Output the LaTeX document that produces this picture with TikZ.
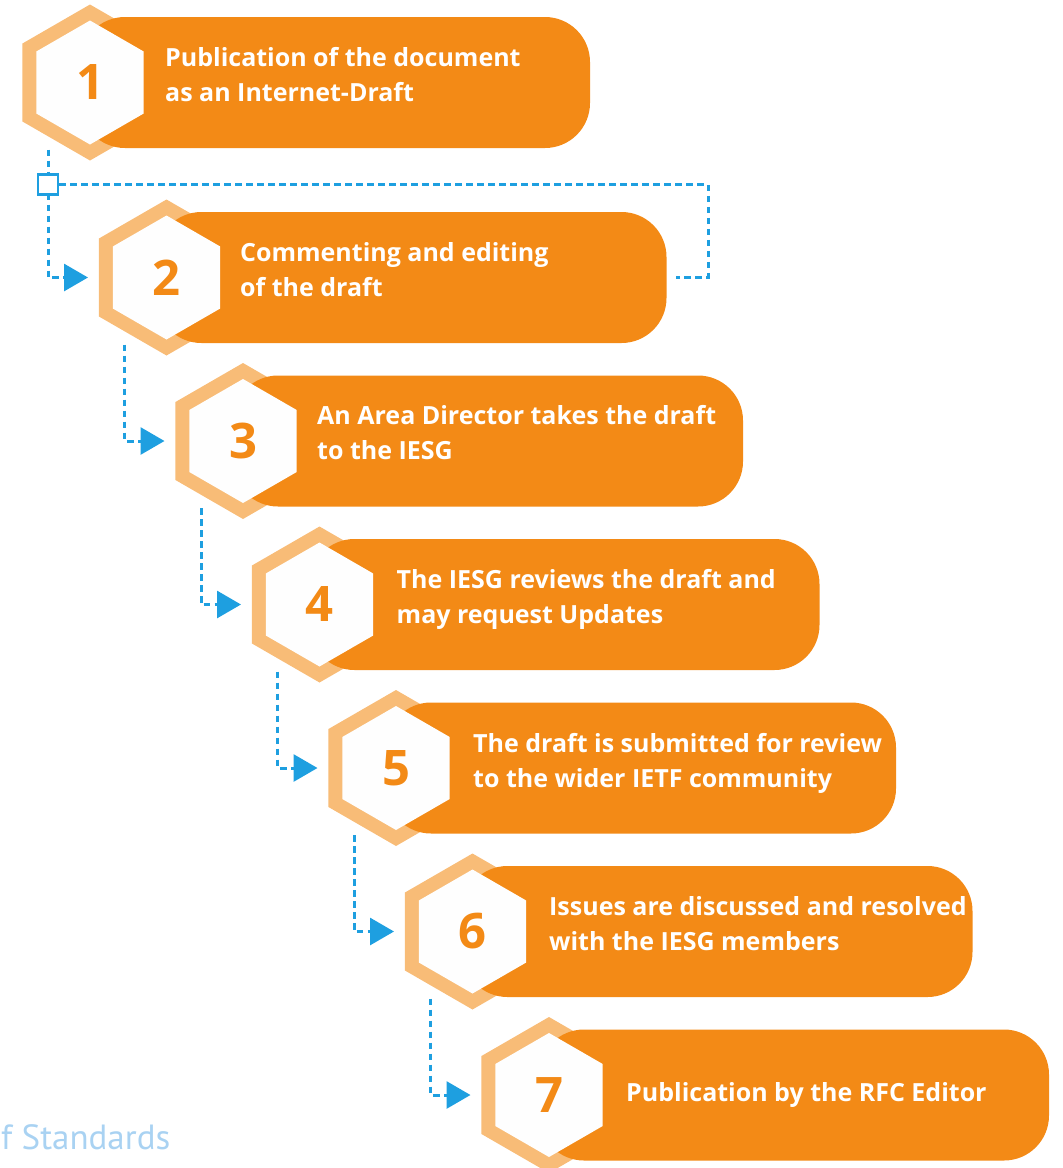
\documentclass[tikz,border=0pt]{standalone}
\usepackage{fontspec}
\setmainfont{PT Sans}
\newfontfamily\stagefont{Open Sans}
\usetikzlibrary{arrows.meta}
\definecolor{rectorange}{HTML}{F38A16}
\definecolor{hexpale}{HTML}{F8BC77}
\definecolor{hexwhite}{HTML}{FEFEFE}
\definecolor{flowblue}{HTML}{1E9FE0}
\definecolor{wmblue}{HTML}{A9D2F2}
\newcommand\drawstage[4]{%
  % #1 name, #2 cx, #3 cy, #4 number
  \fill[hexpale] (#2,#3) ++(90:78) -- ++(210:78) -- ++(270:78) -- ++(330:78) -- ++(30:78) -- ++(90:78) -- cycle;
  \fill[rectorange, rounded corners=45pt] ({#2-10},{#3-65.5}) rectangle ({#2+500},{#3+65.5});
  \fill[hexwhite] (#2,#3) ++(90:62) -- ++(210:62) -- ++(270:62) -- ++(330:62) -- ++(30:62) -- ++(90:62) -- cycle;
  \node[numtext] (n#1) at (#2,#3) {#4};
  \coordinate (top#1) at ({#2-42},{#3+67});
  \coordinate (tip#1) at ({#2-78.5},#3);
}
\begin{document}
\begin{tikzpicture}[x=1pt,y=-1pt,
  numtext/.style={font=\stagefont\bfseries\fontsize{49}{49}\selectfont, text=rectorange, inner sep=0pt},
  stagetext/.style={font=\stagefont\bfseries\fontsize{25}{30}\selectfont, text=white, anchor=base west, inner sep=0pt},
  flowline/.style={draw=flowblue, line width=3pt, dash pattern=on 6.5pt off 4.5pt},
  flowarrow/.style={flowline, -{Triangle[length=24pt,width=27pt]}},
  loopsquare/.style={draw=flowblue, line width=2.5pt, fill=white, minimum size=20pt, inner sep=0pt}
]
\useasboundingbox (0,0) rectangle (1063,1168);
\drawstage{1}{90}{82.5}{1}
\node[stagetext] (t1a) at (165,66.5) {Publication of the document};
\node[stagetext] (t1b) at (165,101.5) {as an Internet-Draft};
\drawstage{2}{166.5}{277.5}{2}
\node[stagetext] (t2a) at (240,261) {Commenting and editing};
\node[stagetext] (t2b) at (240,296) {of the draft};
\drawstage{3}{243}{441}{3}
\node[stagetext] (t3a) at (317,424) {An Area Director takes the draft};
\node[stagetext] (t3b) at (317,459) {to the IESG};
\drawstage{4}{319.5}{604.5}{4}
\node[stagetext] (t4a) at (396.5,588) {The IESG reviews the draft and};
\node[stagetext] (t4b) at (396.5,623) {may request Updates};
\drawstage{5}{396}{768}{5}
\node[stagetext] (t5a) at (473,752) {The draft is submitted for review};
\node[stagetext] (t5b) at (473,787) {to the wider IETF community};
\drawstage{6}{472.5}{931.5}{6}
\node[stagetext] (t6a) at (549,915) {Issues are discussed and resolved};
\node[stagetext] (t6b) at (549,950) {with the IESG members};
\drawstage{7}{549}{1095}{7}
\node[stagetext] (t7a) at (626,1101) {Publication by the RFC Editor};
% connectors
\draw[flowarrow] (top1) |- (tip2);
\draw[flowarrow] (top2) |- (tip3);
\draw[flowarrow] (top3) |- (tip4);
\draw[flowarrow] (top4) |- (tip5);
\draw[flowarrow] (top5) |- (tip6);
\draw[flowarrow] (top6) |- (tip7);
\coordinate (lp1) at (708,184.5);
\coordinate (lp2) at (708,277.5);
\coordinate (lpend) at (676,277.5);
\node[loopsquare] (sq) at (48,184.5) {};
\draw[flowline] (sq.east) -- (lp1) -- (lp2) -- (lpend);
\node[font=\fontsize{35}{35}\selectfont, text=wmblue, anchor=base west, inner sep=0pt] (wm) at (1,1149) {f Standards};
\end{tikzpicture}
\end{document}
